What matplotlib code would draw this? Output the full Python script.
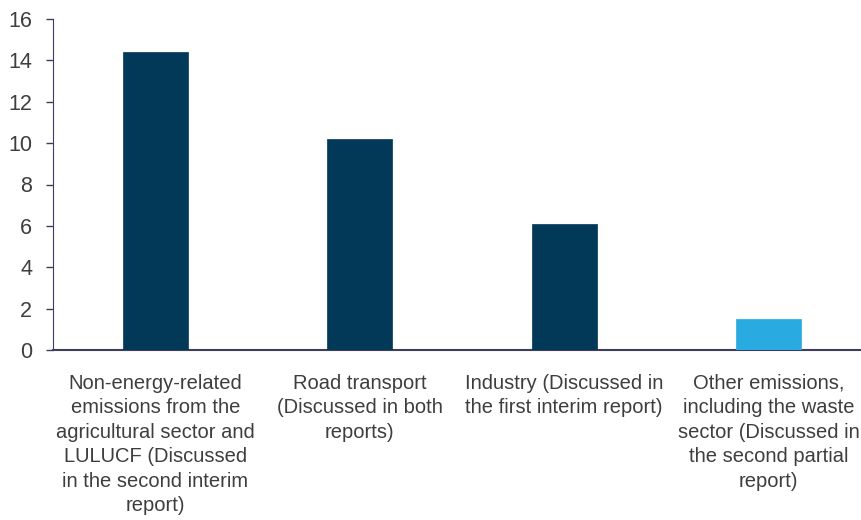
import matplotlib
matplotlib.use('Agg')
import matplotlib.pyplot as plt

# Emission categories and their values
categories = [
    'Non-energy-related\nemissions from the\nagricultural sector and\nLULUCF (Discussed\nin the second interim\nreport)',
    'Road transport\n(Discussed in both\nreports)',
    'Industry (Discussed in\nthe first interim report)',
    'Other emissions,\nincluding the waste\nsector (Discussed in\nthe second partial\nreport)',
]
values = [14.4, 10.2, 6.1, 1.5]
bar_colors = ['#023858', '#023858', '#023858', '#29aae1']
yticks = [0, 2, 4, 6, 8, 10, 12, 14, 16]

plt.rcParams['font.family'] = ['Liberation Sans', 'DejaVu Sans']
text_color = '#3e3e3e'
axis_color = '#3d3d5c'

fig = plt.figure(figsize=(8.62, 5.2), dpi=100)
ax = fig.add_axes([53 / 862, 170 / 520, 818 / 862, 331 / 520])

x = range(len(values))
ax.bar(x, values, width=0.32, color=bar_colors, edgecolor=bar_colors, linewidth=0.5, zorder=3)

ax.set_xlim(-0.5, 3.5)
ax.set_ylim(0, 16)
ax.set_yticks(yticks)
ax.set_yticklabels([str(v) for v in yticks], fontsize=15.5, color=text_color)
ax.set_xticks(list(x))
ax.set_xticklabels(categories, fontsize=14.5, color=text_color, linespacing=1.37)
ax.tick_params(axis='x', length=0, pad=17)
ax.tick_params(axis='y', length=5, width=1, color=axis_color, pad=10)

for side in ['top', 'right']:
    ax.spines[side].set_visible(False)
ax.spines['left'].set_color(axis_color)
ax.spines['bottom'].set_color(axis_color)
ax.spines['bottom'].set_linewidth(1.5)

fig.savefig('out.png', dpi=100)
